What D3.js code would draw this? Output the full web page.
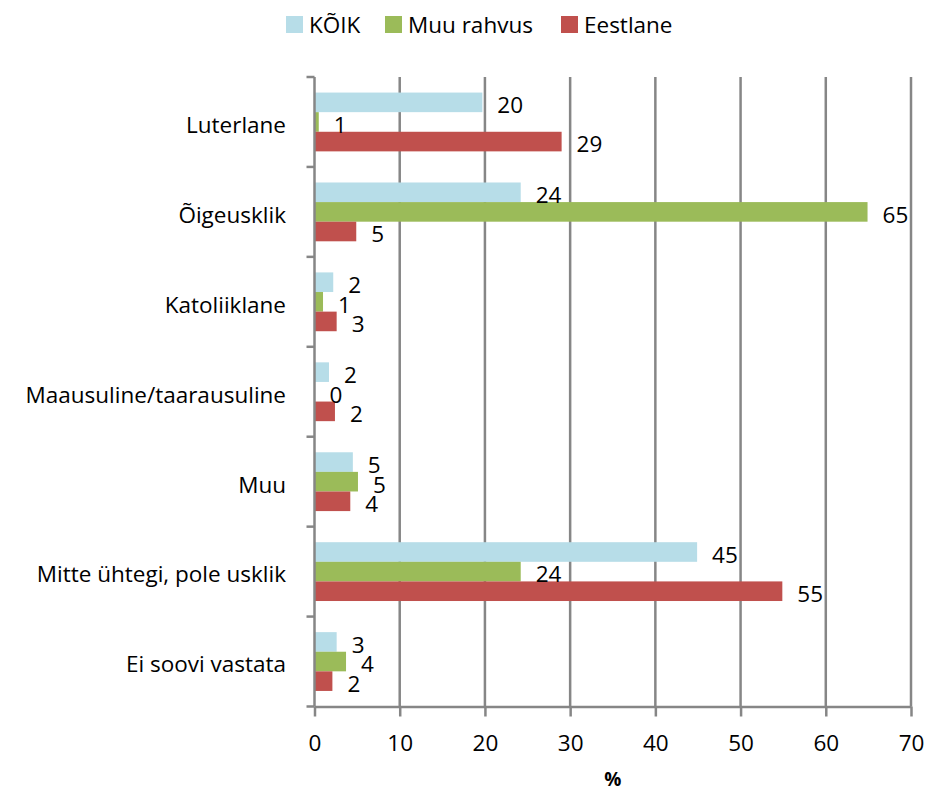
<!DOCTYPE html>
<html lang="et">
<head>
  <meta charset="UTF-8">
  <title>Usuline kuuluvus</title>
  <script src="https://d3js.org/d3.v7.min.js"></script>
  <style>
    body {
      margin: 0;
      background: #fff;
      font-family: "Open Sans", Lato, sans-serif;
    }
    .grid line {
      stroke: #868686;
      stroke-width: 2.5;
    }
    .axis path, .axis line {
      stroke: #868686;
      stroke-width: 2.5;
    }
    .axis text, .cat, .val, .legend text {
      font-family: "Open Sans", sans-serif;
      font-size: 22.5px;
      fill: #000;
    }
  </style>
</head>
<body>
  <svg width="930" height="791"></svg>
  <script>
    const categories = ["Luterlane", "Õigeusklik", "Katoliiklane", "Maausuline/taarausuline",
                        "Muu", "Mitte ühtegi, pole usklik", "Ei soovi vastata"];
    const seriesNames = ["KÕIK", "Muu rahvus", "Eestlane"];
    const koik = [19.7, 24.2, 2.2, 1.7, 4.5, 44.9, 2.6];
    const muuRahvus = [0.5, 64.9, 1.0, 0.0, 5.1, 24.2, 3.7];
    const eestlane = [29.0, 4.9, 2.6, 2.4, 4.2, 54.9, 2.1];
    const xTicks = [0, 10, 20, 30, 40, 50, 60, 70];
    const colors = ["#b7dde8", "#9bbb59", "#c0504d"];

    const seriesValues = [koik, muuRahvus, eestlane];

    const svg = d3.select("svg"),
          width = +svg.attr("width"),
          height = +svg.attr("height"),
          margin = {top: 77, right: 19, bottom: 84.5, left: 314.5};

    const x = d3.scaleLinear()
      .domain([0, 70])
      .range([margin.left, width - margin.right]);

    const y = d3.scaleBand()
      .domain(categories)
      .range([margin.top, height - margin.bottom])
      .paddingInner(0.346)
      .paddingOuter(0.173);

    const y1 = d3.scaleBand()
      .domain(seriesNames)
      .range([0, y.bandwidth()]);

    // gridlines
    svg.append("g")
      .attr("class", "grid")
      .selectAll("line")
      .data(xTicks.slice(1))
      .enter()
      .append("line")
      .attr("x1", d => x(d))
      .attr("x2", d => x(d))
      .attr("y1", margin.top)
      .attr("y2", height - margin.bottom);

    // bars
    const rows = categories.map((c, i) => ({
      cat: c,
      vals: seriesNames.map((s, j) => ({series: s, value: seriesValues[j][i], color: colors[j]}))
    }));

    const groups = svg.selectAll(".row")
      .data(rows)
      .enter()
      .append("g")
      .attr("class", "row")
      .attr("transform", d => `translate(0,${y(d.cat)})`);

    groups.selectAll("rect")
      .data(d => d.vals)
      .enter()
      .append("rect")
      .attr("x", x(0))
      .attr("y", d => y1(d.series))
      .attr("width", d => x(d.value) - x(0))
      .attr("height", y1.bandwidth())
      .attr("fill", d => d.color);

    groups.selectAll(".val")
      .data(d => d.vals)
      .enter()
      .append("text")
      .attr("class", "val")
      .attr("x", d => x(d.value) + 15)
      .attr("y", d => y1(d.series) + y1.bandwidth() / 2 + 3)
      .attr("dy", "0.35em")
      .text(d => Math.round(d.value));

    // x axis
    svg.append("g")
      .attr("class", "axis")
      .attr("transform", `translate(0,${height - margin.bottom})`)
      .call(d3.axisBottom(x).tickValues(xTicks).tickSize(10).tickPadding(19).tickSizeOuter(0))
      .selectAll("text").attr("font-family", null).attr("font-size", null);

    // y axis (line + ticks at band boundaries)
    const yAxis = svg.append("g").attr("class", "axis");
    yAxis.append("line")
      .attr("x1", x(0)).attr("x2", x(0))
      .attr("y1", margin.top).attr("y2", height - margin.bottom);
    const bounds = d3.range(categories.length + 1).map(i => margin.top + i * y.step());
    yAxis.selectAll(".tk")
      .data(bounds)
      .enter()
      .append("line")
      .attr("x1", x(0) - 8).attr("x2", x(0))
      .attr("y1", d => d).attr("y2", d => d);

    svg.selectAll(".cat")
      .data(categories)
      .enter()
      .append("text")
      .attr("class", "cat")
      .attr("x", 286)
      .attr("y", d => y(d) + y.bandwidth() / 2 + 3)
      .attr("dy", "0.35em")
      .attr("text-anchor", "end")
      .text(d => d);

    // axis title
    svg.append("text")
      .attr("x", (x(0) + x(70)) / 2)
      .attr("y", 779)
      .attr("dy", "0.35em")
      .attr("text-anchor", "middle")
      .style("font-size", "19px")
      .style("font-weight", "bold")
      .text("%");

    // legend
    const legendX = [286, 385, 561];
    const legend = svg.append("g").attr("class", "legend")
      .selectAll("g")
      .data(seriesNames)
      .enter()
      .append("g")
      .attr("transform", (d, i) => `translate(${legendX[i]},16)`);
    legend.append("rect")
      .attr("width", 17)
      .attr("height", 17)
      .attr("fill", (d, i) => colors[i]);
    legend.append("text")
      .attr("x", 23)
      .attr("y", 9)
      .attr("dy", "0.35em")
      .text(d => d);
  </script>
</body>
</html>
